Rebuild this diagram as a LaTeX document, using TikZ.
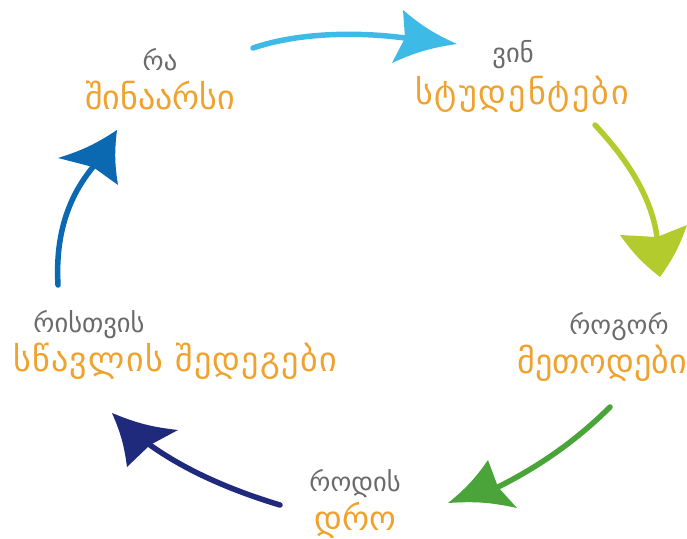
\documentclass[tikz,border=0pt]{standalone}
\usepackage{fontspec}
\newfontfamily\geo{DejaVu Sans}
\definecolor{cLight}{HTML}{3DBAE5}
\definecolor{cLime}{HTML}{B3CB2C}
\definecolor{cGreen}{HTML}{4AA43A}
\definecolor{cNavy}{HTML}{1F2A7C}
\definecolor{cBlue}{HTML}{0B69B1}
\definecolor{cOrange}{HTML}{F0A22E}
\definecolor{cGray}{HTML}{6A6A6A}
\tikzset{
  ask/.style={font=\geo\fontsize{26.5}{30}\selectfont, text=cGray, inner sep=0pt},
  topic/.style={font=\geo\fontsize{34}{38}\selectfont, text=cOrange, inner sep=0pt},
  shaft/.style={line width=5.5pt, line cap=round},
}
\begin{document}
\begin{tikzpicture}[x=1pt,y=-1pt]
\useasboundingbox (0,0) rectangle (687,538);
% texts
\node[ask]   (q1) at (160,60)  {რა};
\node[topic] (t1) at (160,96)  {შინაარსი};
\node[ask]   (q2) at (513,55)  {ვინ};
\node[topic] (t2) at (522,94)  {\addfontfeature{LetterSpace=6}სტუდენტები};
\node[ask]   (q3) at (619,327) {როგორ};
\node[topic] (t3) at (602,363) {მეთოდები};
\node[ask]   (q4) at (355,484) {როდის};
\node[topic] (t4) at (355,520) {დრო};
\node[ask]   (q5) at (89,325)  {რისთვის};
\node[topic] (t5) at (175,361) {\addfontfeature{LetterSpace=4}სწავლის შედეგები};

% arrow 1 (light blue)
\coordinate (a1s) at (253,48);
\coordinate (a1n) at (405,38);
\draw[shaft, cLight] (a1s) .. controls (300,32) and (360,32) .. (a1n);
\fill[cLight] (457,44) to[bend left=8] (403,10) -- (a1n) -- (392,63) to[bend left=8] cycle;

% arrow 2 (lime)
\coordinate (a2s) at (595,125);
\coordinate (a2n) at (657,237);
\draw[shaft, cLime] (a2s) .. controls (630,162) and (652,200) .. (a2n);
\fill[cLime] (660,277) to[bend left=8] (620,235) -- (a2n) -- (687,225) to[bend left=8] cycle;

% arrow 3 (green)
\coordinate (a3s) at (610,407);
\coordinate (a3n) at (498,487);
\draw[shaft, cGreen] (a3s) .. controls (572,445) and (532,470) .. (a3n);
\fill[cGreen] (448,503) to[bend left=8] (517,508) -- (a3n) -- (488,460) to[bend left=8] cycle;

% arrow 4 (navy)
\coordinate (a4s) at (280,505);
\coordinate (a4n) at (150,445);
\draw[shaft, cNavy] (a4s) .. controls (230,490) and (185,470) .. (a4n);
\fill[cNavy] (112,413) to[bend left=8] (127,467) -- (a4n) -- (178,430) to[bend left=8] cycle;

% arrow 5 (blue)
\coordinate (a5s) at (58,285);
\coordinate (a5n) at (93,167);
\draw[shaft, cBlue] (a5s) .. controls (55,232) and (70,195) .. (a5n);
\fill[cBlue] (117,130) to[bend left=8] (58,158) -- (a5n) -- (118,185) to[bend left=8] cycle;
\end{tikzpicture}
\end{document}
